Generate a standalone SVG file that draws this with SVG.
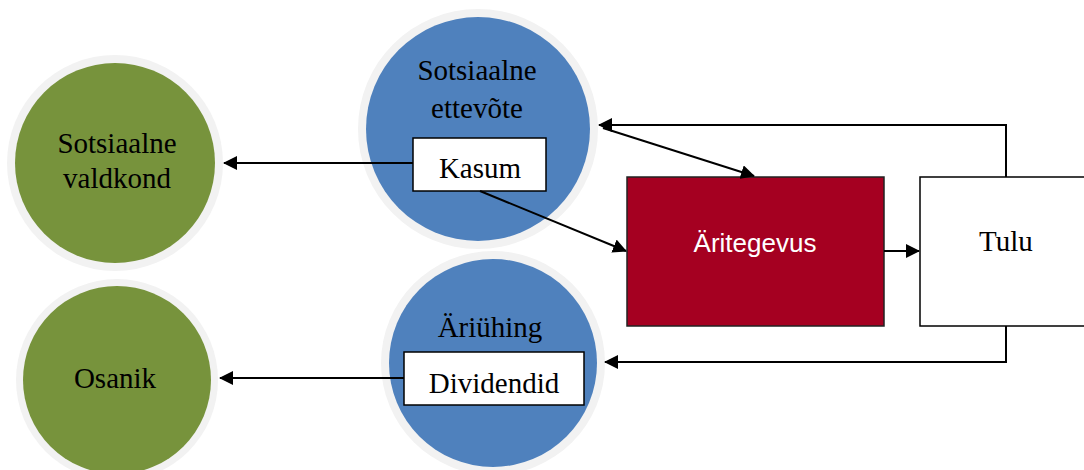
<svg xmlns="http://www.w3.org/2000/svg" width="1084" height="470" viewBox="0 0 1084 470">
<style>
.ring{fill:#f2f2f2}
.green{fill:#77933c}
.blue{fill:#4f81bd}
.t{font-family:"Liberation Serif","Times New Roman",serif;font-size:29px;fill:#000;text-anchor:middle}
.box{fill:#fff;stroke:#000;stroke-width:1.5}
.ln{fill:none;stroke:#000;stroke-width:2}
</style>
<defs>
<marker id="ah" viewBox="0 0 14 14" refX="13" refY="7" markerWidth="14" markerHeight="14" markerUnits="userSpaceOnUse" orient="auto">
<path d="M0,0 L14,7 L0,14 Z" fill="#000"/>
</marker>
</defs>
<rect width="1084" height="470" fill="#fff"/>
<g id="sotsiaalne-valdkond">
<circle class="ring" cx="115" cy="163" r="108"/>
<circle class="green" cx="115" cy="163" r="100"/>
<text class="t" x="117" y="153">Sotsiaalne</text>
<text class="t" x="117" y="188">valdkond</text>
</g>
<g id="osanik">
<circle class="ring" cx="117" cy="380" r="101"/>
<circle class="green" cx="117" cy="380" r="94"/>
<text class="t" x="115" y="388">Osanik</text>
</g>
<g id="sotsiaalne-ettevote">
<circle class="ring" cx="478" cy="129" r="120"/>
<circle class="blue" cx="478" cy="129" r="112"/>
<text class="t" x="477" y="80">Sotsiaalne</text>
<text class="t" x="477" y="118">ettevõte</text>
</g>
<g id="kasum">
<rect class="box" x="413" y="138" width="133" height="53"/>
<text class="t" x="480" y="178">Kasum</text>
</g>
<g id="ariuhing">
<circle class="ring" cx="493" cy="363" r="112"/>
<circle class="blue" cx="493" cy="363" r="104"/>
<text class="t" x="490" y="337">Äriühing</text>
</g>
<g id="dividendid">
<rect class="box" x="404" y="352" width="180" height="53"/>
<text class="t" x="494" y="393">Dividendid</text>
</g>
<g id="aritegevus">
<rect x="627" y="177" width="257" height="149" fill="#a50021" stroke="#222" stroke-width="1.5"/>
<text x="755" y="252" font-family="Liberation Sans, Arial, sans-serif" font-size="26" fill="#fff" text-anchor="middle">Äritegevus</text>
</g>
<g id="tulu">
<rect x="920" y="177" width="170" height="149" fill="#fff" stroke="#000" stroke-width="1.5"/>
<text class="t" x="1006" y="251">Tulu</text>
</g>
<g id="connectors">
<path class="ln" d="M1006,177 V125 H599" marker-end="url(#ah)"/>
<path class="ln" d="M603,128 L754,176" marker-end="url(#ah)"/>
<path class="ln" d="M480,191 L626,251" marker-end="url(#ah)"/>
<path class="ln" d="M884,251 H919" marker-end="url(#ah)"/>
<path class="ln" d="M1006,326 V362 H605" marker-end="url(#ah)"/>
<path class="ln" d="M413,163 H224" marker-end="url(#ah)"/>
<path class="ln" d="M404,378 H220" marker-end="url(#ah)"/>
</g>
</svg>
